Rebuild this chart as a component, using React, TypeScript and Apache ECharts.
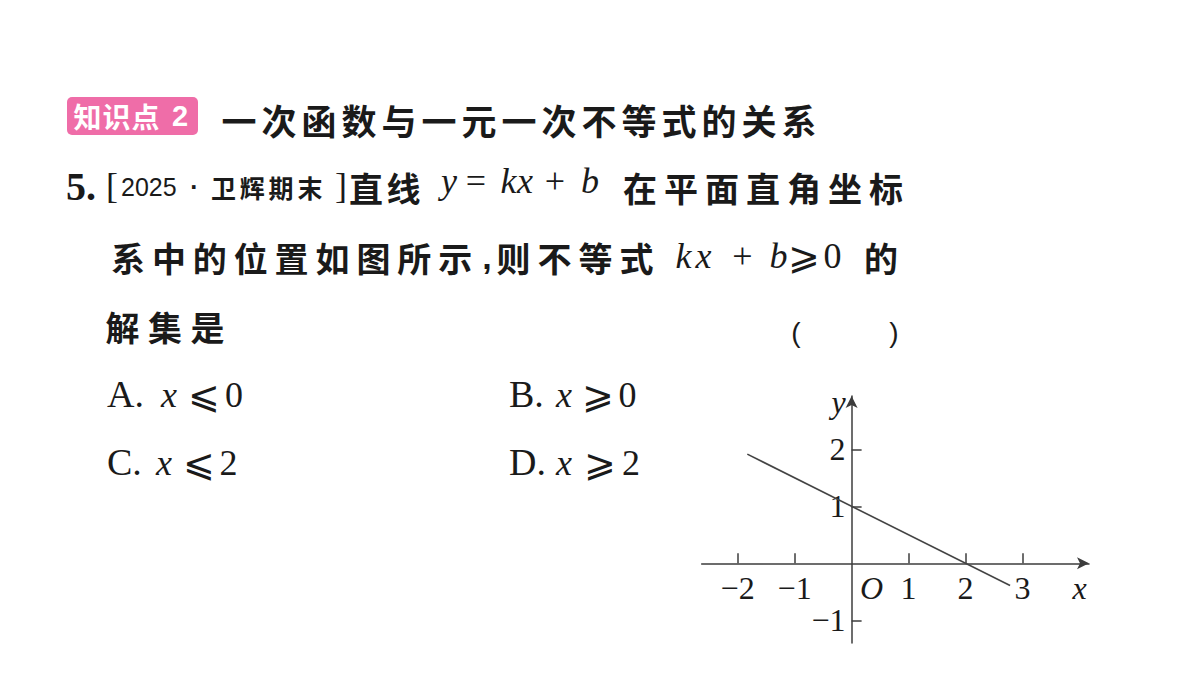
import { useEffect, useRef } from 'react';
import * as echarts from 'echarts';

// 坐标轴刻度与标签
const xTickValues = [-2, -1, 1, 2, 3];
const xTickLabels = ['−2', '−1', '1', '2', '3'];
const yTickValues = [-1, 1, 2];
const yTickLabels = ['−1', '1', '2'];

// 原点 O、x、y 字母所在的位置（坐标值）
const originLabelAt = 0.35;
const xNameAt = 4;
const yNameAt = 2.83;

// 直线 y = kx + b 的两个端点
const lineX = [-1.83, 2.78];
const lineY = [1.915, -0.39];

const INK = '#1a1a1a';
const AXIS = '#3c3c3c';
const CJK = '"Noto Sans CJK SC", sans-serif';
const SERIF = '"Liberation Serif", "DejaVu Serif", serif';
const SANS = '"Liberation Sans", Arial, sans-serif';

// 坐标系范围（像素与数值对应）
const X_MIN = -2.63;
const X_MAX = 4.165;
const Y_MIN = -1.398;
const Y_MAX = 2.935;
const GRID = { left: 701.7, top: 396, width: 387.3, height: 247 };

// 逐字排布中文（带字距）
const cjk = (s: string, cx: number, cy: number, pitch: number, size: number, color = INK) =>
    Array.from(s).map((ch, i) => ({
        type: 'text',
        x: cx + i * pitch,
        y: cy,
        silent: true,
        style: {
            text: ch,
            fontSize: size,
            fontFamily: CJK,
            fontWeight: 'bold',
            fill: color,
            align: 'center',
            verticalAlign: 'middle'
        }
    }));

const tok = (
    s: string,
    x: number,
    y: number,
    size: number,
    opts: { italic?: boolean; bold?: boolean; family?: string; align?: string; color?: string } = {}
) => ({
    type: 'text',
    x,
    y,
    silent: true,
    style: {
        text: s,
        fontSize: size,
        fontFamily: opts.family || SERIF,
        fontStyle: opts.italic ? 'italic' : 'normal',
        fontWeight: opts.bold ? 'bold' : 'normal',
        fill: opts.color || INK,
        align: opts.align || 'center',
        verticalAlign: 'middle'
    }
});

const labelFor = (values: number[], texts: string[]) => (v: number) => {
    const i = values.findIndex(a => Math.abs(a - v) < 1e-6);
    return i >= 0 ? texts[i] : '';
};

const App = () => {
    const chartRef = useRef<HTMLDivElement>(null);

    useEffect(() => {
        if (!chartRef.current) return;
        const chart = echarts.init(chartRef.current, undefined, { renderer: 'svg' });

        const xLabelValues = [...xTickValues, originLabelAt, xNameAt];
        const xLabelTexts = [...xTickLabels, '{i|O}', '{i|x}'];
        const yLabelValues = [...yTickValues, yNameAt];
        const yLabelTexts = [...yTickLabels, '{i|y}'];

        const italicRich = { i: { fontStyle: 'italic', fontFamily: SERIF, fontSize: 32, color: INK } };

        // 把坐标轴移到零点处
        const xOffset = -(GRID.height * (0 - Y_MIN)) / (Y_MAX - Y_MIN);
        const yOffset = -(GRID.width * (0 - X_MIN)) / (X_MAX - X_MIN);

        const graphic: any[] = [
            // 第一行：知识点标签 + 标题
            { type: 'rect', shape: { x: 67, y: 97, width: 131, height: 38, r: 5 }, style: { fill: '#EF6DA8' }, silent: true },
            ...cjk('知识点', 87.5, 116, 29, 28, '#ffffff'),
            tok('2', 180, 116, 29, { family: SANS, bold: true, color: '#ffffff' }),
            ...cjk('一次函数与一元一次不等式的关系', 239, 119, 40, 35),

            // 第二行
            tok('5.', 66, 186.5, 40, { bold: true, align: 'left' }),
            tok('[', 106, 186, 36, { align: 'left' }),
            tok('2025', 121, 187, 25, { family: SANS, align: 'left' }),
            tok('·', 194.5, 187, 25, { family: SANS, bold: true }),
            ...cjk('卫辉期末', 223.5, 187, 28.8, 25),
            tok(']', 335, 186, 36, { align: 'left' }),
            ...cjk('直线', 366, 187, 37.5, 34),
            tok('y', 449, 181, 36, { italic: true }),
            tok('=', 476, 181, 36),
            tok('k', 508.5, 181, 36, { italic: true }),
            tok('x', 525, 181, 36, { italic: true }),
            tok('+', 555, 181, 36),
            tok('b', 590, 181, 36, { italic: true }),
            ...cjk('在平面直角坐标', 640, 187, 41, 34),

            // 第三行
            ...cjk('系中的位置如图所示', 128, 257, 40.9, 34),
            tok(',', 487, 257, 34, { family: SANS, bold: true }),
            ...cjk('则不等式', 513.5, 257, 41, 34),
            tok('k', 683.5, 256, 36, { italic: true }),
            tok('x', 703.5, 256, 36, { italic: true }),
            tok('+', 742.5, 256, 36),
            tok('b', 778.5, 256, 36, { italic: true }),
            tok('⩾', 803.5, 256, 38),
            tok('0', 832.5, 256, 36),
            ...cjk('的', 881, 257, 41, 34),

            // 第四行
            ...cjk('解集是', 122.5, 326, 42.5, 34),
            tok('(', 796, 332, 28, { family: SANS }),
            tok(')', 894, 332, 28, { family: SANS }),

            // 选项
            tok('A.', 107, 394, 38, { align: 'left' }),
            tok('x', 169, 395, 36, { italic: true }),
            tok('⩽', 204, 395, 38),
            tok('0', 234, 395, 36),
            tok('B.', 509, 394, 38, { align: 'left' }),
            tok('x', 564, 395, 36, { italic: true }),
            tok('⩾', 597.5, 395, 38),
            tok('0', 627.5, 395, 36),
            tok('C.', 107, 462, 38, { align: 'left' }),
            tok('x', 164, 463, 36, { italic: true }),
            tok('⩽', 199, 463, 38),
            tok('2', 228.5, 463, 36),
            tok('D.', 509, 462, 38, { align: 'left' }),
            tok('x', 564, 463, 36, { italic: true }),
            tok('⩾', 600, 463, 38),
            tok('2', 631, 463, 36)
        ];

        const axisLine = {
            onZero: false,
            symbol: ['none', 'arrow'],
            symbolSize: [9, 12],
            lineStyle: { color: AXIS, width: 1.5 }
        };

        chart.setOption({
            animation: false,
            backgroundColor: '#ffffff',
            grid: { ...GRID, containLabel: false, outerBoundsMode: 'none' },
            xAxis: {
                type: 'value',
                position: 'bottom',
                offset: xOffset,
                min: X_MIN,
                max: X_MAX,
                axisLine,
                axisTick: {
                    show: true,
                    inside: true,
                    length: 10,
                    customValues: xTickValues,
                    lineStyle: { color: AXIS, width: 1.5 }
                },
                axisLabel: {
                    customValues: xLabelValues,
                    formatter: labelFor(xLabelValues, xLabelTexts),
                    margin: 9,
                    fontFamily: SERIF,
                    fontSize: 32,
                    color: INK,
                    rich: italicRich
                },
                splitLine: { show: false }
            },
            yAxis: {
                type: 'value',
                position: 'left',
                offset: yOffset,
                min: Y_MIN,
                max: Y_MAX,
                axisLine,
                axisTick: {
                    show: true,
                    inside: true,
                    length: 10,
                    customValues: yTickValues,
                    lineStyle: { color: AXIS, width: 1.5 }
                },
                axisLabel: {
                    customValues: yLabelValues,
                    formatter: labelFor(yLabelValues, yLabelTexts),
                    margin: 6,
                    fontFamily: SERIF,
                    fontSize: 32,
                    color: INK,
                    rich: italicRich
                },
                splitLine: { show: false }
            },
            series: [
                {
                    type: 'line',
                    data: lineX.map((x, i) => [x, lineY[i]]),
                    symbol: 'none',
                    silent: true,
                    lineStyle: { color: '#444444', width: 1.6 }
                }
            ],
            graphic
        });

        return () => {
            chart.dispose();
        };
    }, []);

    return (
        <div
            ref={chartRef}
            style={{ position: 'absolute', left: 0, top: 0, width: '1200px', height: '675px', background: '#ffffff' }}
        />
    );
};

export default App;
